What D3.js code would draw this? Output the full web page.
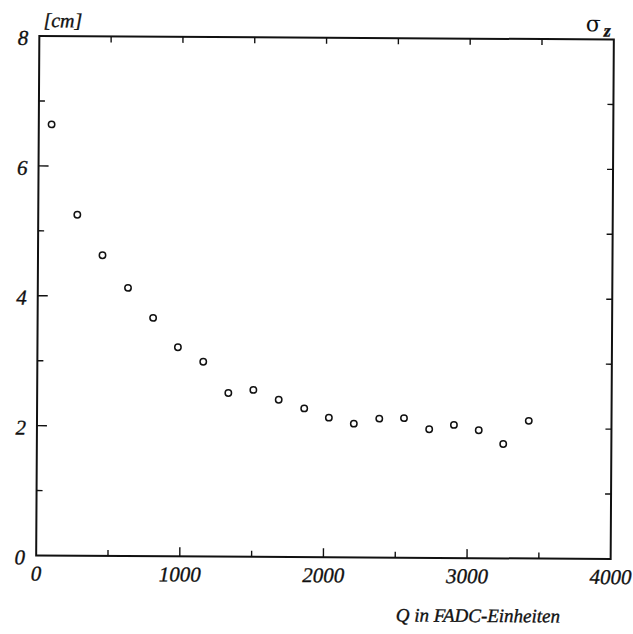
<!DOCTYPE html>
<html>
<head>
<meta charset="utf-8">
<script src="https://cdn.jsdelivr.net/npm/d3@7"></script>
<style>
  body { margin: 0; background: #fff; }
  svg { display: block; }
  text { font-family: "Liberation Serif", "DejaVu Serif", serif; font-style: italic; fill: #111; stroke: #111; stroke-width: 0.35; }
</style>
</head>
<body>
<svg id="chart"></svg>
<script>
// values
const qValues = [89, 272, 449, 628, 804, 978, 1155, 1331, 1505, 1682,
                 1860, 2032, 2206, 2383, 2555, 2731, 2903, 3076, 3247, 3424];
const sigmaValues = [6.64, 5.25, 4.63, 4.13, 3.67, 3.22, 3.00, 2.52, 2.57, 2.42,
                     2.29, 2.15, 2.06, 2.14, 2.15, 1.98, 2.05, 1.97, 1.76, 2.12];
const xTickLabels = [0, 1000, 2000, 3000, 4000];
const yTickLabels = [0, 2, 4, 6, 8];

const width = 633, height = 634;
const margin = {left: 37.75, right: 633 - 612.25, top: 37.75, bottom: 634 - 557.25};

const svg = d3.select("#chart")
  .attr("width", width)
  .attr("height", height);

// the scan is slightly tilted
const g = svg.append("g")
  .attr("transform", "rotate(0.35, 325, 297.5)");

const x = d3.scaleLinear().domain([0, 4000]).range([margin.left, width - margin.right]);
const y = d3.scaleLinear().domain([0, 8]).range([height - margin.bottom, margin.top]);

// frame
g.append("rect")
  .attr("x", x(0))
  .attr("y", y(8))
  .attr("width", x(4000) - x(0))
  .attr("height", y(0) - y(8))
  .attr("fill", "none")
  .attr("stroke", "#111")
  .attr("stroke-width", 2);

// bottom ticks (inward)
const xTicks = d3.range(500, 4000, 500);
g.append("g").selectAll("line")
  .data(xTicks)
  .enter()
  .append("line")
  .attr("x1", d => x(d)).attr("x2", d => x(d))
  .attr("y1", y(0))
  .attr("y2", d => y(0) - (d % 1000 === 0 ? 9 : 6))
  .attr("stroke", "#111").attr("stroke-width", 1.4);

// top ticks
g.append("g").selectAll("line")
  .data(xTicks)
  .enter()
  .append("line")
  .attr("x1", d => x(d)).attr("x2", d => x(d))
  .attr("y1", y(8))
  .attr("y2", y(8) + 6)
  .attr("stroke", "#111").attr("stroke-width", 1.4);

// left ticks
const yTicks = d3.range(1, 8);
g.append("g").selectAll("line")
  .data(yTicks)
  .enter()
  .append("line")
  .attr("x1", x(0))
  .attr("x2", d => x(0) + (d % 2 === 0 ? 10 : 6))
  .attr("y1", d => y(d)).attr("y2", d => y(d))
  .attr("stroke", "#111").attr("stroke-width", 1.4);

// right ticks
g.append("g").selectAll("line")
  .data(yTicks)
  .enter()
  .append("line")
  .attr("x1", x(4000))
  .attr("x2", x(4000) - 6)
  .attr("y1", d => y(d)).attr("y2", d => y(d))
  .attr("stroke", "#111").attr("stroke-width", 1.4);

// tick labels
g.append("g").selectAll("text")
  .data(xTickLabels)
  .enter()
  .append("text")
  .attr("x", d => x(d))
  .attr("y", y(0) + 25)
  .attr("text-anchor", "middle")
  .attr("font-size", 21)
  .text(d => d);

g.append("g").selectAll("text")
  .data(yTickLabels)
  .enter()
  .append("text")
  .attr("x", x(0) - 11)
  .attr("y", d => y(d) + 9)
  .attr("text-anchor", "end")
  .attr("font-size", 21)
  .text(d => d);

// axis titles
g.append("text")
  .attr("x", x(0) + 4)
  .attr("y", y(8) - 9)
  .attr("font-size", 20)
  .text("[cm]");

const sig = g.append("text")
  .attr("x", x(4000) - 3)
  .attr("y", y(8) - 8)
  .attr("text-anchor", "end")
  .style("font-style", "normal");
sig.append("tspan")
  .attr("font-family", "DejaVu Serif")
  .attr("font-size", 22)
  .style("stroke-width", 0)
  .text("σ");
sig.append("tspan")
  .attr("dx", 3)
  .attr("dy", 5)
  .attr("font-size", 18)
  .attr("font-weight", "bold")
  .style("font-style", "italic")
  .text("z");

g.append("text")
  .attr("x", 562)
  .attr("y", 621)
  .attr("text-anchor", "end")
  .attr("font-size", 19)
  .text("Q in FADC-Einheiten");

// data points
g.append("g").selectAll("circle")
  .data(qValues)
  .enter()
  .append("circle")
  .attr("cx", d => x(d))
  .attr("cy", (d, i) => y(sigmaValues[i]))
  .attr("r", 3.2)
  .attr("fill", "none")
  .attr("stroke", "#111")
  .attr("stroke-width", 1.5);
</script>
</body>
</html>
